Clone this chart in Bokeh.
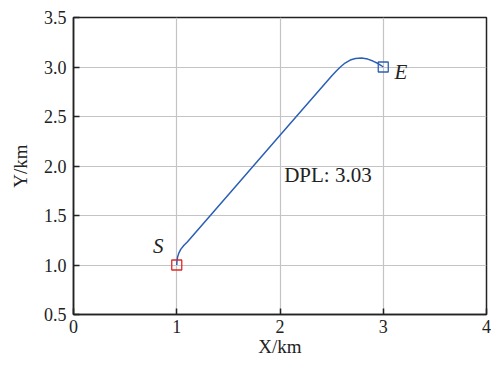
from bokeh.plotting import figure
from bokeh.models import Range1d, FixedTicker, Label, CustomJSTickFormatter
from bokeh.embed import file_html
from bokeh.resources import INLINE

# path (km)
path_x = [1.0, 1.002, 1.008, 1.02, 1.04, 1.07, 1.10, 1.5, 2.0, 2.5, 2.55, 2.59, 2.63, 2.68, 2.73, 2.79, 2.85, 2.90, 2.95, 2.98, 3.0]
path_y = [1.0, 1.04, 1.08, 1.12, 1.16, 1.20, 1.23, 1.71, 2.31, 2.91, 2.965, 3.005, 3.04, 3.07, 3.085, 3.09, 3.08, 3.06, 3.035, 3.015, 3.0]

start_x, start_y = [1.0], [1.0]
end_x, end_y = [3.0], [3.0]

x_ticks = [0, 1, 2, 3, 4]
y_ticks = [0.5, 1.0, 1.5, 2.0, 2.5, 3.0, 3.5]

FONT = "Liberation Serif"

p = figure(width=491, height=359, output_backend="svg", toolbar_location=None,
           x_range=Range1d(0, 4), y_range=Range1d(0.5, 3.5),
           min_border_left=73, min_border_right=5, min_border_top=17, min_border_bottom=42)

p.background_fill_color = "white"
p.border_fill_color = "white"
p.outline_line_color = "#222222"
p.outline_line_width = 1.5

p.xaxis.ticker = FixedTicker(ticks=x_ticks)
p.yaxis.ticker = FixedTicker(ticks=y_ticks)
p.yaxis.formatter = CustomJSTickFormatter(code="return tick.toFixed(1);")

for ax in (p.xaxis[0], p.yaxis[0]):
    ax.axis_line_color = "#222222"
    ax.axis_line_width = 1.5
    ax.major_tick_in = 6
    ax.major_tick_out = 0
    ax.minor_tick_line_color = None
    ax.major_tick_line_color = "#222222"
    ax.major_tick_line_width = 1.5
    ax.major_label_text_font = FONT
    ax.major_label_text_font_size = "18px"
    ax.major_label_text_color = "#222222"
    ax.axis_label_text_font = FONT
    ax.axis_label_text_font_size = "19px"
    ax.axis_label_text_font_style = "normal"
    ax.axis_label_text_color = "#222222"

p.xaxis.axis_label = "X/km"
p.yaxis.axis_label = "Y/km"
p.xaxis.major_label_standoff = 5
p.yaxis.major_label_standoff = 7
p.xaxis.axis_label_standoff = 0
p.yaxis.axis_label_standoff = 10

p.grid.grid_line_color = "#c4c4c4"
p.grid.grid_line_width = 1.2

p.line(path_x, path_y, line_color="#2b5fb4", line_width=1.5)
p.scatter(start_x, start_y, marker="square", size=10, fill_color=None, line_color="#e02828", line_width=1.3)
p.scatter(end_x, end_y, marker="square", size=10, fill_color=None, line_color="#2b5fb4", line_width=1.3)

p.add_layout(Label(x=0.82, y=1.19, text="S", text_font=FONT, text_font_size="21px",
                   text_font_style="italic", text_align="center", text_baseline="middle", text_color="#222222"))
p.add_layout(Label(x=3.17, y=2.95, text="E", text_font=FONT, text_font_size="21px",
                   text_font_style="italic", text_align="center", text_baseline="middle", text_color="#222222"))
p.add_layout(Label(x=2.04, y=1.91, text="DPL: 3.03", text_font=FONT, text_font_size="21px",
                   text_align="left", text_baseline="middle", text_color="#222222"))

open("out.html", "w").write(file_html(p, INLINE))
